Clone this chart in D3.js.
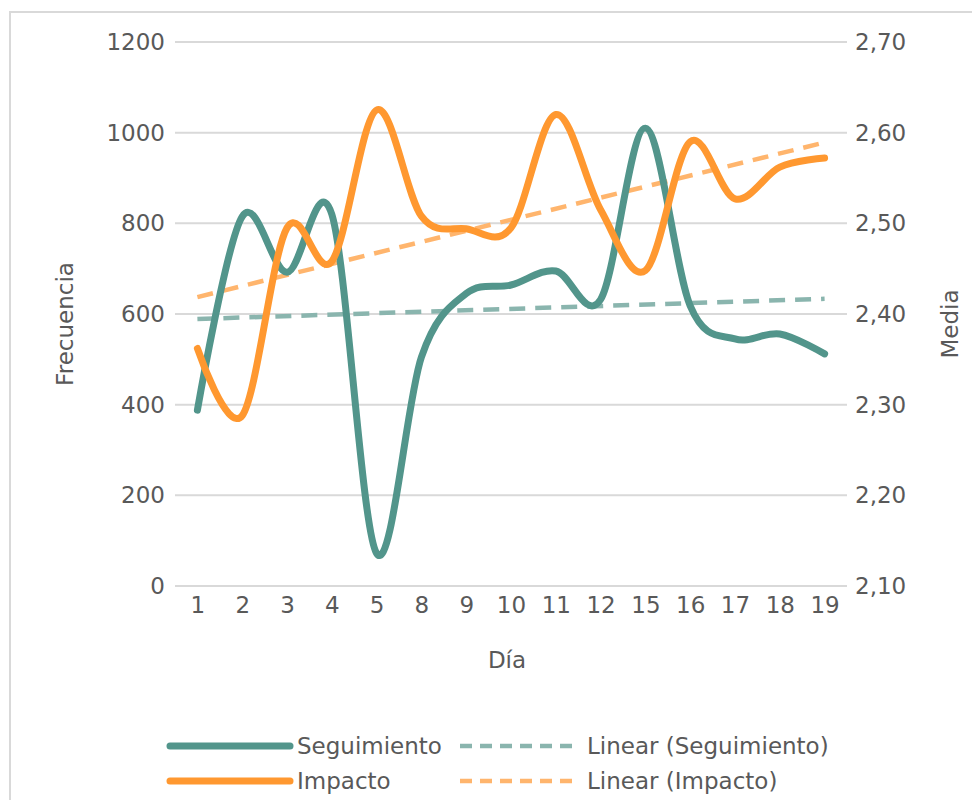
<!DOCTYPE html>
<html>
<head>
<meta charset="utf-8">
<script src="https://cdn.jsdelivr.net/npm/d3@7"></script>
<style>
  body { margin: 0; background: #fff; }
  text { font-family: "DejaVu Sans", sans-serif; fill: #595959; }
</style>
</head>
<body>
<div class="canvas"></div>
<script>
// Data
const dias = ['1', '2', '3', '4', '5', '8', '9', '10', '11', '12', '15', '16', '17', '18', '19'];
const seguimiento = [388, 815, 692, 820, 72, 505, 645, 664, 695, 632, 1010, 618, 545, 556, 512];
const impacto = [2.362, 2.288, 2.495, 2.458, 2.625, 2.508, 2.494, 2.495, 2.620, 2.515, 2.448, 2.590, 2.527, 2.562, 2.572];
const leftTicks = [0, 200, 400, 600, 800, 1000, 1200];
const rightTicks = [2.1, 2.2, 2.3, 2.4, 2.5, 2.6, 2.7];

const width = 972;
const height = 800;
const plot = { left: 175, right: 847, top: 42, bottom: 586 };

const teal = '#52958b';
const orange = '#ff9830';

const svg = d3
  .select('.canvas')
  .append('svg')
  .attr('width', width)
  .attr('height', height);

// Frame
svg
  .append('rect')
  .attr('x', 10)
  .attr('y', 12)
  .attr('width', 1000)
  .attr('height', 1000)
  .attr('fill', 'none')
  .attr('stroke', '#d9d9d9')
  .attr('stroke-width', 2);

// Scales
const x = d3
  .scalePoint()
  .domain(dias)
  .range([plot.left, plot.right])
  .padding(0.5);

const yLeft = d3.scaleLinear().domain([0, 1200]).range([plot.bottom, plot.top]);
const yRight = d3.scaleLinear().domain([2.1, 2.7]).range([plot.bottom, plot.top]);

// Gridlines
svg
  .append('g')
  .selectAll('line')
  .data(leftTicks)
  .join('line')
  .attr('x1', plot.left)
  .attr('x2', plot.right)
  .attr('y1', (d) => yLeft(d))
  .attr('y2', (d) => yLeft(d))
  .attr('stroke', '#d9d9d9')
  .attr('stroke-width', 2);

// Axes
const leftAxis = svg
  .append('g')
  .attr('transform', `translate(${plot.left},0)`)
  .call(
    d3
      .axisLeft(yLeft)
      .tickValues(leftTicks)
      .tickSize(0)
      .tickPadding(10)
      .tickFormat(d3.format('d'))
  );

const rightAxis = svg
  .append('g')
  .attr('transform', `translate(${plot.right},0)`)
  .call(
    d3
      .axisRight(yRight)
      .tickValues(rightTicks)
      .tickSize(0)
      .tickPadding(8)
      .tickFormat((d) => d.toFixed(2).replace('.', ','))
  );

const bottomAxis = svg
  .append('g')
  .attr('transform', `translate(0,${plot.bottom})`)
  .call(d3.axisBottom(x).tickSize(0).tickPadding(11));

[leftAxis, rightAxis, bottomAxis].forEach((g) => {
  g.select('.domain').remove();
  g.selectAll('text').attr('font-size', 23).attr('font-family', 'DejaVu Sans').attr('fill', '#595959');
});

// Axis titles
svg
  .append('text')
  .attr('x', 507)
  .attr('y', 668)
  .attr('text-anchor', 'middle')
  .attr('font-size', 23)
  .text('Día');

svg
  .append('text')
  .attr('transform', 'translate(73,324) rotate(-90)')
  .attr('text-anchor', 'middle')
  .attr('font-size', 23)
  .text('Frecuencia');

svg
  .append('text')
  .attr('transform', 'translate(958,324) rotate(-90)')
  .attr('text-anchor', 'middle')
  .attr('font-size', 23)
  .text('Media');

// Linear trend (least squares over the category index)
const trend = (values) => {
  const n = values.length;
  const xs = values.map((v, i) => i + 1);
  const mx = d3.mean(xs);
  const my = d3.mean(values);
  const slope =
    d3.sum(xs, (xi, i) => (xi - mx) * (values[i] - my)) /
    d3.sum(xs, (xi) => (xi - mx) * (xi - mx));
  const b = my - slope * mx;
  return [
    { cat: dias[0], v: slope * 1 + b },
    { cat: dias[n - 1], v: slope * n + b },
  ];
};

const trendLine = (scale) =>
  d3
    .line()
    .x((d) => x(d.cat))
    .y((d) => scale(d.v));

svg
  .append('path')
  .attr('d', trendLine(yLeft)(trend(seguimiento)))
  .attr('fill', 'none')
  .attr('stroke', '#8ab5ae')
  .attr('stroke-width', 4.5)
  .attr('stroke-dasharray', '16,10');

svg
  .append('path')
  .attr('d', trendLine(yRight)(trend(impacto)))
  .attr('fill', 'none')
  .attr('stroke', '#ffb56d')
  .attr('stroke-width', 4.5)
  .attr('stroke-dasharray', '16,10');

// Smoothed series
const smooth = (scale) =>
  d3
    .line()
    .x((d, i) => x(dias[i]))
    .y((d) => scale(d))
    .curve(d3.curveCatmullRom.alpha(0));

svg
  .append('path')
  .attr('d', smooth(yLeft)(seguimiento))
  .attr('fill', 'none')
  .attr('stroke', teal)
  .attr('stroke-width', 7)
  .attr('stroke-linecap', 'round')
  .attr('stroke-linejoin', 'round');

svg
  .append('path')
  .attr('d', smooth(yRight)(impacto))
  .attr('fill', 'none')
  .attr('stroke', orange)
  .attr('stroke-width', 7)
  .attr('stroke-linecap', 'round')
  .attr('stroke-linejoin', 'round');

// Legend
const legendItems = [
  { name: 'Seguimiento', color: teal, dash: null, x: 170, y: 746 },
  { name: 'Linear (Seguimiento)', color: '#8ab5ae', dash: '12,8', x: 460, y: 746 },
  { name: 'Impacto', color: orange, dash: null, x: 170, y: 781 },
  { name: 'Linear (Impacto)', color: '#ffb56d', dash: '12,8', x: 460, y: 781 },
];

const legend = svg
  .append('g')
  .selectAll('g')
  .data(legendItems)
  .join('g')
  .attr('transform', (d) => `translate(${d.x},${d.y})`);

legend
  .append('line')
  .attr('x1', 0)
  .attr('x2', 120)
  .attr('stroke', (d) => d.color)
  .attr('stroke-width', (d) => (d.dash ? 4.5 : 7))
  .attr('stroke-linecap', (d) => (d.dash ? 'butt' : 'round'))
  .attr('stroke-dasharray', (d) => d.dash);

legend
  .append('text')
  .attr('x', 127)
  .attr('y', 8)
  .attr('font-size', 23)
  .text((d) => d.name);
</script>
</body>
</html>
